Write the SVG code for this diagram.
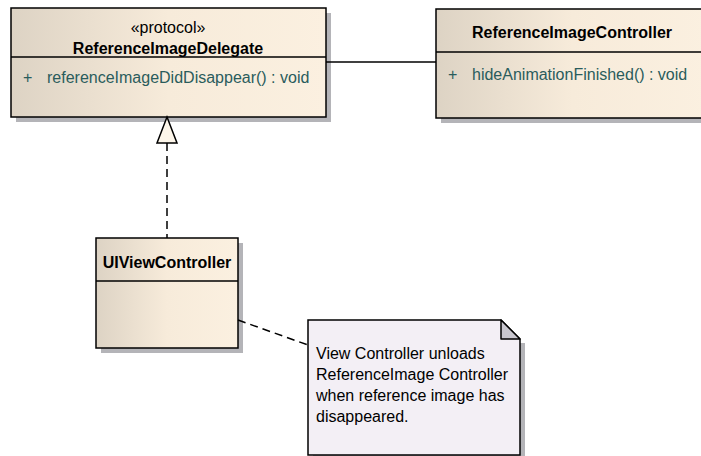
<svg xmlns="http://www.w3.org/2000/svg" width="701" height="456" viewBox="0 0 701 456">
<defs>
<linearGradient id="cls" x1="0" y1="0" x2="1" y2="0">
<stop offset="0" stop-color="#ddd3c4"/>
<stop offset="0.5" stop-color="#f7ebda"/>
<stop offset="1" stop-color="#fbf0e0"/>
</linearGradient>
<style>
.box{fill:url(#cls);stroke:#000;stroke-width:1.5}
.sh{fill:#b4b4b8}
.div{stroke:#000;stroke-width:1.5}
.nm{font-family:"Liberation Sans",Arial,sans-serif;font-size:16px;font-weight:bold;fill:#000;text-anchor:middle}
.st{font-family:"Liberation Sans",Arial,sans-serif;font-size:16px;fill:#000;text-anchor:middle}
.op{font-family:"Liberation Sans",Arial,sans-serif;font-size:16px;fill:#2a5c5c}
.nt{font-family:"Liberation Sans",Arial,sans-serif;font-size:16px;fill:#000}
.ln{stroke:#000;stroke-width:1.5;fill:none}
.dash{stroke:#000;stroke-width:1.5;fill:none;stroke-dasharray:8 5}
</style>
</defs>
<rect width="701" height="456" fill="#fff"/>
<g id="ReferenceImageDelegate">
<rect class="sh" x="16" y="13" width="315" height="109"/>
<rect class="box" x="11" y="8" width="315" height="109"/>
<line class="div" x1="11" y1="57" x2="326" y2="57"/>
<text class="st" x="168" y="33">«protocol»</text>
<text class="nm" x="168" y="54">ReferenceImageDelegate</text>
<text class="op" x="23" y="83">+</text>
<text class="op" x="47" y="83">referenceImageDidDisappear() : void</text>
</g>
<g id="ReferenceImageController">
<rect class="sh" x="441" y="14" width="270" height="109"/>
<rect class="box" x="436" y="9" width="272" height="109"/>
<line class="div" x1="436" y1="52" x2="708" y2="52"/>
<text class="nm" x="572" y="38">ReferenceImageController</text>
<text class="op" x="448" y="80">+</text>
<text class="op" x="472" y="80">hideAnimationFinished() : void</text>
</g>
<g id="UIViewController">
<rect class="sh" x="101" y="243" width="142" height="110"/>
<rect class="box" x="96" y="238" width="142" height="110"/>
<line class="div" x1="96" y1="281" x2="238" y2="281"/>
<text class="nm" x="167" y="268">UIViewController</text>
</g>
<g id="Note">
<path class="sh" d="M520 343 L525 343 L525 460 L313 460 L313 455 L520 455 Z"/>
<path d="M308 320 L501 320 L520 339 L520 455 L308 455 Z" fill="#f3eff5" stroke="#000" stroke-width="1.5"/>
<path d="M501 320 L501 339 L520 339 Z" fill="#c9c7cf" stroke="#000" stroke-width="1.5" stroke-linejoin="round"/>
<text class="nt" x="316" y="359">View Controller unloads</text>
<text class="nt" x="316" y="380">ReferenceImage Controller</text>
<text class="nt" x="316" y="401">when reference image has</text>
<text class="nt" x="316" y="422">disappeared.</text>
</g>
<g id="connectors">
<line class="ln" x1="326" y1="62" x2="436" y2="62"/>
<line class="dash" x1="167" y1="143" x2="167" y2="238"/>
<path d="M167 117 L177 143 L157 143 Z" fill="#fdf6ea" stroke="#000" stroke-width="1.5" stroke-linejoin="miter"/>
<line class="dash" x1="238" y1="320" x2="308" y2="345"/>
</g>
</svg>
